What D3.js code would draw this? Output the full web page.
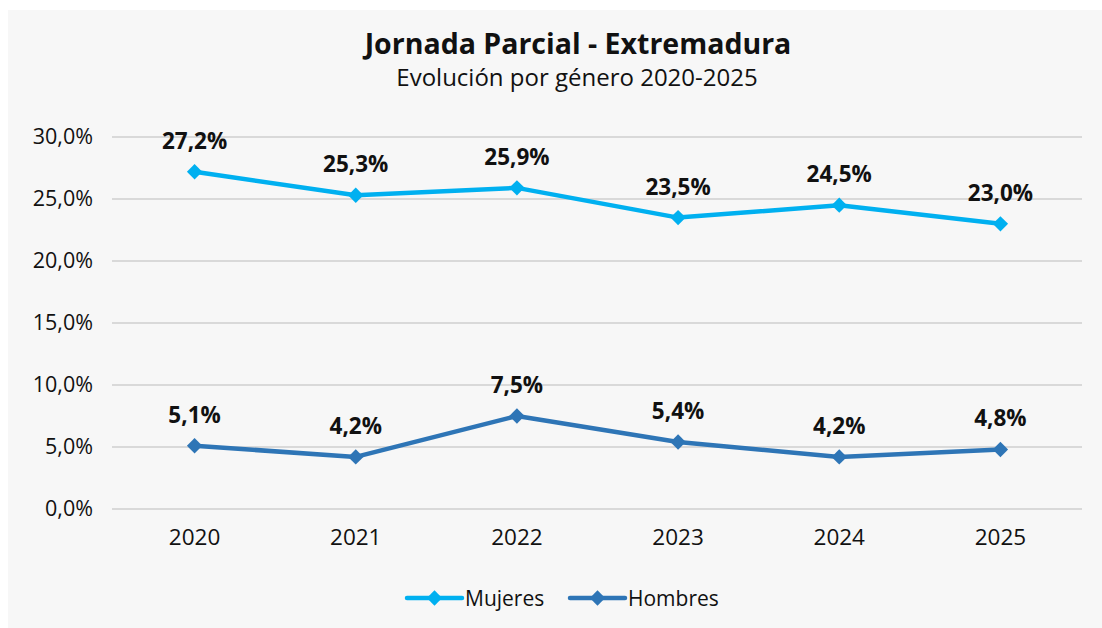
<!DOCTYPE html>
<html>
<head>
<meta charset="utf-8">
<script src="https://cdn.jsdelivr.net/npm/d3@7"></script>
<style>
  body { margin: 0; background: #fff; }
  text { font-family: 'Open Sans', 'Noto Sans', sans-serif; }
</style>
</head>
<body>
<div id="chart"></div>
<script>
const years = ['2020', '2021', '2022', '2023', '2024', '2025']
const mujeres = [27.2, 25.3, 25.9, 23.5, 24.5, 23.0]
const hombres = [5.1, 4.2, 7.5, 5.4, 4.2, 4.8]
const yTicks = [0, 5, 10, 15, 20, 25, 30]

const series = [
  { name: 'Mujeres', values: mujeres, color: '#00b0f0' },
  { name: 'Hombres', values: hombres, color: '#2e75b6' }
]

const W = 1102
const H = 628
const margin = { top: 137, left: 114, right: 20, bottom: 119 }
const width = 1081 - margin.left
const height = H - margin.top - margin.bottom

const root = d3
  .select('#chart')
  .append('svg')
  .attr('width', W)
  .attr('height', H)

root
  .append('rect')
  .attr('x', 8)
  .attr('y', 10)
  .attr('width', W - 8)
  .attr('height', H - 10)
  .attr('fill', '#f7f7f7')

const svg = root
  .append('g')
  .attr('transform', 'translate(' + margin.left + ',' + margin.top + ')')

const xPositionScale = d3.scaleBand().domain(years).range([0, width])
const yPositionScale = d3.scaleLinear().domain([0, 30]).range([height, 0])

const fmt = v => d3.format('.1f')(v).replace('.', ',') + '%'

// gridlines
svg
  .selectAll('.grid')
  .data(yTicks)
  .enter()
  .append('line')
  .attr('class', 'grid')
  .attr('x1', -2)
  .attr('x2', width + 1)
  .attr('y1', d => yPositionScale(d))
  .attr('y2', d => yPositionScale(d))
  .attr('stroke', '#d9d9d9')
  .attr('stroke-width', 2)

const yAxis = d3
  .axisLeft(yPositionScale)
  .tickValues(yTicks)
  .tickSize(0)
  .tickPadding(21)
  .tickFormat(fmt)
svg
  .append('g')
  .attr('class', 'axis y-axis')
  .call(yAxis)
  .call(g => g.select('.domain').remove())
  .selectAll('text')
  .attr('font-size', 21.5)
  .attr('fill', '#111')

const xAxis = d3.axisBottom(xPositionScale).tickSize(0).tickPadding(20)
svg
  .append('g')
  .attr('class', 'axis x-axis')
  .attr('transform', 'translate(0,' + height + ')')
  .call(xAxis)
  .call(g => g.select('.domain').remove())
  .selectAll('text')
  .attr('font-size', 22.5)
  .attr('fill', '#111')

const cx = i => xPositionScale(years[i]) + xPositionScale.bandwidth() / 2

const line = d3
  .line()
  .x((d, i) => cx(i))
  .y(d => yPositionScale(d))

const diamond = d3.symbol().type(d3.symbolDiamond2).size(150)

series.forEach(s => {
  svg
    .append('path')
    .attr('d', line(s.values))
    .attr('fill', 'none')
    .attr('stroke', s.color)
    .attr('stroke-width', 4.5)
    .attr('stroke-linejoin', 'round')

  svg
    .selectAll('.pt-' + s.name)
    .data(s.values)
    .enter()
    .append('path')
    .attr('d', diamond)
    .attr('transform', (d, i) => 'translate(' + cx(i) + ',' + yPositionScale(d) + ')')
    .attr('fill', s.color)

  svg
    .selectAll('.lbl-' + s.name)
    .data(s.values)
    .enter()
    .append('text')
    .attr('x', (d, i) => cx(i))
    .attr('y', d => yPositionScale(d) - 23)
    .attr('text-anchor', 'middle')
    .attr('font-size', 22.5)
    .attr('font-weight', 'bold')
    .attr('fill', '#111')
    .text(fmt)
})

// title
root
  .append('text')
  .attr('x', 578)
  .attr('y', 54)
  .attr('text-anchor', 'middle')
  .attr('font-size', 28.5)
  .attr('font-weight', 'bold')
  .attr('fill', '#111')
  .text('Jornada Parcial - Extremadura')

root
  .append('text')
  .attr('x', 577)
  .attr('y', 86)
  .attr('text-anchor', 'middle')
  .attr('font-size', 24)
  .attr('fill', '#111')
  .text('Evolución por género 2020-2025')

// legend
const legend = root
  .selectAll('.legend')
  .data(series)
  .enter()
  .append('g')
  .attr('class', 'legend')
  .attr('transform', (d, i) => 'translate(' + (407 + i * 163) + ',598)')

legend
  .append('line')
  .attr('x1', 0)
  .attr('x2', 55)
  .attr('stroke', d => d.color)
  .attr('stroke-width', 4.5)
  .attr('stroke-linecap', 'round')

legend
  .append('path')
  .attr('d', diamond)
  .attr('transform', 'translate(27.5,0)')
  .attr('fill', d => d.color)

legend
  .append('text')
  .attr('x', 58)
  .attr('y', 7.5)
  .attr('font-size', 21)
  .attr('fill', '#111')
  .text(d => d.name)
</script>
</body>
</html>
